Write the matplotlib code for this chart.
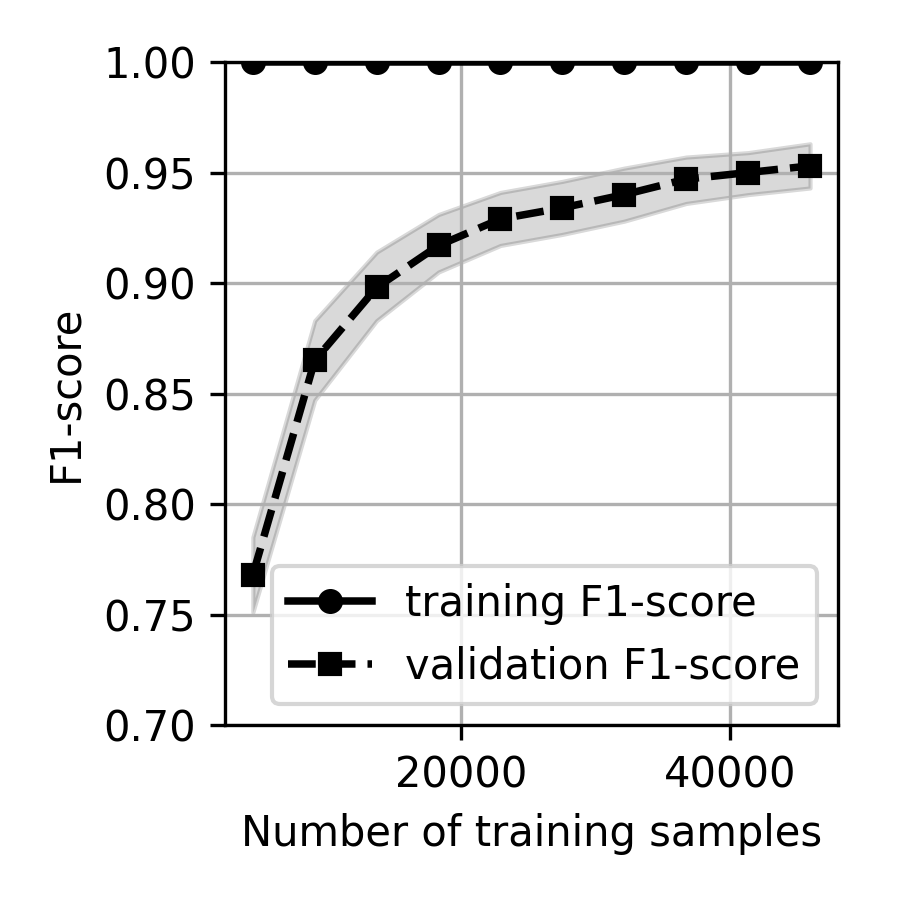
import numpy as np
import matplotlib
matplotlib.use("Agg")
import matplotlib.pyplot as plt

train_sizes = [4590, 9180, 13770, 18360, 22950, 27540, 32130, 36720, 41310, 45900]
train_f1 = [1.0, 1.0, 1.0, 1.0, 1.0, 1.0, 1.0, 1.0, 1.0, 1.0]
val_f1 = [0.768, 0.865, 0.898, 0.917, 0.929, 0.934, 0.940, 0.947, 0.950, 0.953]
val_lower = [0.751, 0.847, 0.883, 0.905, 0.917, 0.922, 0.928, 0.936, 0.940, 0.943]
val_upper = [0.785, 0.883, 0.914, 0.931, 0.941, 0.946, 0.952, 0.957, 0.959, 0.963]

fig = plt.figure(figsize=(3, 3), dpi=300)
ax = fig.add_axes([0.25, 0.1944, 0.681, 0.7367])

ax.plot(train_sizes, train_f1, color='black', marker='o', markersize=5,
        linewidth=1.8, label='training F1-score')
ax.fill_between(train_sizes, val_lower, val_upper, color='black', alpha=0.15)
ax.plot(train_sizes, val_f1, color='black', linestyle='--', marker='s',
        markersize=5, linewidth=1.8, label='validation F1-score')

ax.set_ylim(0.70, 1.00)
ax.set_xticks([20000, 40000])
ax.grid(True)
ax.set_xlabel('Number of training samples')
ax.set_ylabel('F1-score')
ax.legend(loc='lower right')

fig.savefig('out.png', dpi=300)
